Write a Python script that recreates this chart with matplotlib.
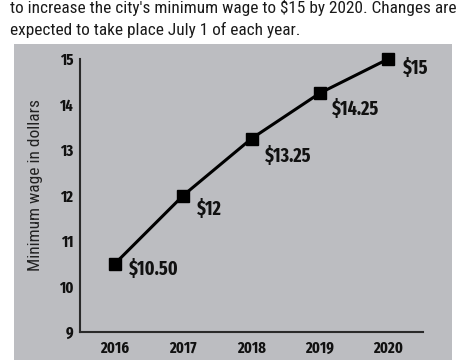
import matplotlib
matplotlib.use("Agg")
import matplotlib.pyplot as plt
from matplotlib.patches import Rectangle

years = [2016, 2017, 2018, 2019, 2020]
wages = [10.50, 12.00, 13.25, 14.25, 15.00]
labels = ["$10.50", "$12", "$13.25", "$14.25", "$15"]
yticks = [9, 10, 11, 12, 13, 14, 15]
title_lines = ["to increase the city's minimum wage to $15 by 2020. Changes are",
               "expected to take place July 1 of each year."]
ylabel = "Minimum wage in dollars"

COND = ["Roboto Condensed", "DejaVu Sans"]
XCOND = ["Fira Sans Extra Condensed", "Roboto Condensed", "DejaVu Sans"]

W, H = 470, 360
fig = plt.figure(figsize=(W / 100, H / 100), dpi=100)
fig.patch.set_facecolor("white")

fig.patches.append(Rectangle((14 / W, 0), (452 - 14) / W, (360 - 44) / H,
                             transform=fig.transFigure, facecolor="#bcbdc1",
                             edgecolor="none", zorder=-5))

fig.text(10 / W, 1 - 13 / H, title_lines[0], family=COND, fontsize=12.4,
         color="#1a1a1a", va="baseline", ha="left")
fig.text(10 / W, 1 - 35 / H, title_lines[1], family=COND, fontsize=12.4,
         color="#1a1a1a", va="baseline", ha="left")

ax = fig.add_axes([80 / W, 1 - 332 / H, (423 - 80) / W, (332 - 59) / H])
ax.set_facecolor("none")
ax.plot(years, wages, color="black", lw=2.2, marker="s", markersize=9,
        clip_on=False, zorder=3)

offsets = [(14, -5), (14, -14), (13, -17), (12, -16), (15, -9)]
for x, y, lab, (dx, dy) in zip(years, wages, labels, offsets):
    ax.annotate(lab, (x, y), xytext=(dx * 0.72, dy * 0.72), textcoords="offset points",
                ha="left", va="center", family=XCOND, fontweight="bold",
                fontsize=14, color="#111111")

ax.set_xlim(2015.49, 2020.51)
ax.set_ylim(9, 15)
ax.set_yticks(yticks)
ax.set_xticks(years)
ax.set_xticklabels([str(y) for y in years])
for s in ["top", "right"]:
    ax.spines[s].set_visible(False)
for s in ["left", "bottom"]:
    ax.spines[s].set_color("#2a2a2a")
    ax.spines[s].set_linewidth(1.5)
ax.tick_params(length=0, pad=5)
for t in ax.get_xticklabels() + ax.get_yticklabels():
    t.set_family(XCOND)
    t.set_fontweight("bold")
    t.set_fontsize(11.5)
    t.set_color("#111111")
ax.tick_params(axis="x", pad=6)
ax.set_ylabel(ylabel, family=COND, fontsize=12.5, color="#222222")
ax.yaxis.set_label_coords(-0.108, 0.538)

fig.savefig("out.png", dpi=100)
